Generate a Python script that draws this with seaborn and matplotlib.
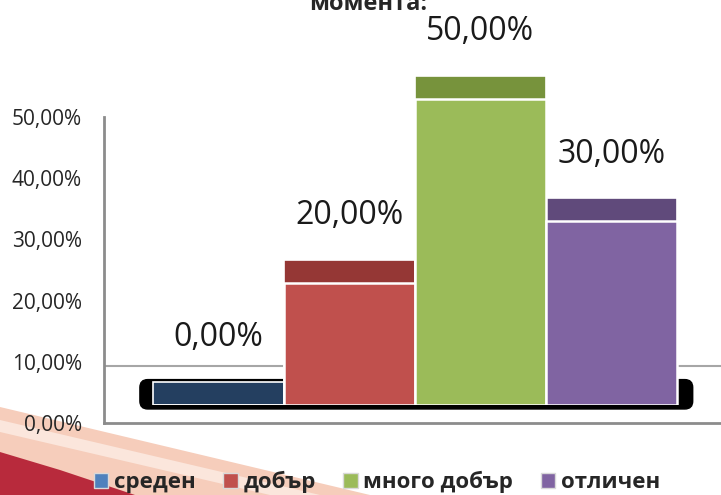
import matplotlib
matplotlib.use("Agg")
import matplotlib.pyplot as plt
import seaborn as sns
from matplotlib.patches import FancyBboxPatch, Polygon, Patch

# data
categories = ["среден", "добър", "много добър", "отличен"]
values = [0.0, 0.20, 0.50, 0.30]
y_ticks = [0.0, 0.1, 0.2, 0.3, 0.4, 0.5]
y_tick_labels = ["0,00%", "10,00%", "20,00%", "30,00%", "40,00%", "50,00%"]
title = "момента:"

front_colors = ["#4F81BD", "#C0504D", "#9BBB59", "#8064A2"]
top_colors = ["#243F60", "#953735", "#77933C", "#604A7B"]

W, H = 721, 495
sns.set_style("white")
plt.rcParams["font.family"] = ["Open Sans", "DejaVu Sans"]

fig = plt.figure(figsize=(W / 100, H / 100), dpi=100)


def rect(left, top, right, bottom):
    # pixel box -> figure fraction
    return [left / W, 1 - bottom / H, (right - left) / W, (bottom - top) / H]


def fig_pt(x, y):
    return (x / W, 1 - y / H)


# decorative swoosh in the bottom-left corner
peach = Polygon([fig_pt(0, 407), fig_pt(370, 495), fig_pt(0, 495)],
                closed=True, transform=fig.transFigure, facecolor="#F6CDBB",
                edgecolor="none", zorder=-2)
light = Polygon([fig_pt(0, 420), fig_pt(320, 495), fig_pt(270, 495), fig_pt(0, 432)],
                closed=True, transform=fig.transFigure, facecolor="#FBE6DC",
                edgecolor="none", zorder=-2)
red = Polygon([fig_pt(0, 452), fig_pt(60, 470), fig_pt(135, 495), fig_pt(0, 495)],
              closed=True, transform=fig.transFigure, facecolor="#B82A3C",
              edgecolor="none", zorder=-1)
for p in (peach, light, red):
    fig.patches.append(p)

# frame axes with the value scale
ax = fig.add_axes(rect(104, 117, 721, 423))
ax.set_facecolor("none")
ax.set_ylim(0, 0.5)
ax.set_xlim(0, 1)
ax.set_yticks(y_ticks)
ax.set_yticklabels(y_tick_labels, fontsize=15)
ax.set_xticks([])
ax.tick_params(axis="y", length=0, pad=16)
for side in ["top", "right"]:
    ax.spines[side].set_visible(False)
for side in ["left", "bottom"]:
    ax.spines[side].set_color("#8C8C8C")
    ax.spines[side].set_linewidth(2)
ax.axhline(0.093, color="#A6A6A6", lw=1.5, zorder=1)

# bar axes, sitting on the 3D floor
depth = 0.0375
ax2 = fig.add_axes(rect(104, 40, 721, 405))
ax2.set_facecolor("none")
ax2.axis("off")

caps = [v + depth for v in values]
sns.barplot(x=categories, y=caps, hue=categories, palette=top_colors, width=1,
            saturation=1, legend=False, ax=ax2, edgecolor="white",
            linewidth=1.2, zorder=3)
sns.barplot(x=categories, y=values, hue=categories, palette=front_colors, width=1,
            saturation=1, legend=False, ax=ax2, edgecolor="white",
            linewidth=1.8, zorder=4)
ax2.set_xlim(-0.874, 3.836)
ax2.set_ylim(0, 365 / 612)

floor = FancyBboxPatch((-0.6, -0.0065), 4.22, 0.048,
                       boxstyle="round,pad=0,rounding_size=0.06",
                       mutation_aspect=131 / 612, facecolor="black",
                       edgecolor="black", zorder=2, clip_on=False)
ax2.add_patch(floor)

for i, v in enumerate(values):
    ax2.annotate(f"{v * 100:.2f}%".replace(".", ","), (i, v + depth),
                 xytext=(0, 32), textcoords="offset points",
                 ha="center", va="center", fontsize=23, color="#1a1a1a")

fig.text(368 / W, 1 - 10 / H, title, ha="center", va="baseline",
         fontsize=17, fontweight="bold")

handles = [Patch(facecolor=c, edgecolor="#D9D9D9", linewidth=1, label=lab)
           for c, lab in zip(front_colors, categories)]
fig.legend(handles=handles, loc="center", bbox_to_anchor=(377 / W, 1 - 482 / H),
           ncol=4, frameon=False, handlelength=0.65, handleheight=0.65,
           handletextpad=0.25, columnspacing=1.25,
           prop={"size": 16, "weight": "bold"})

fig.savefig("out.png", dpi=100)
